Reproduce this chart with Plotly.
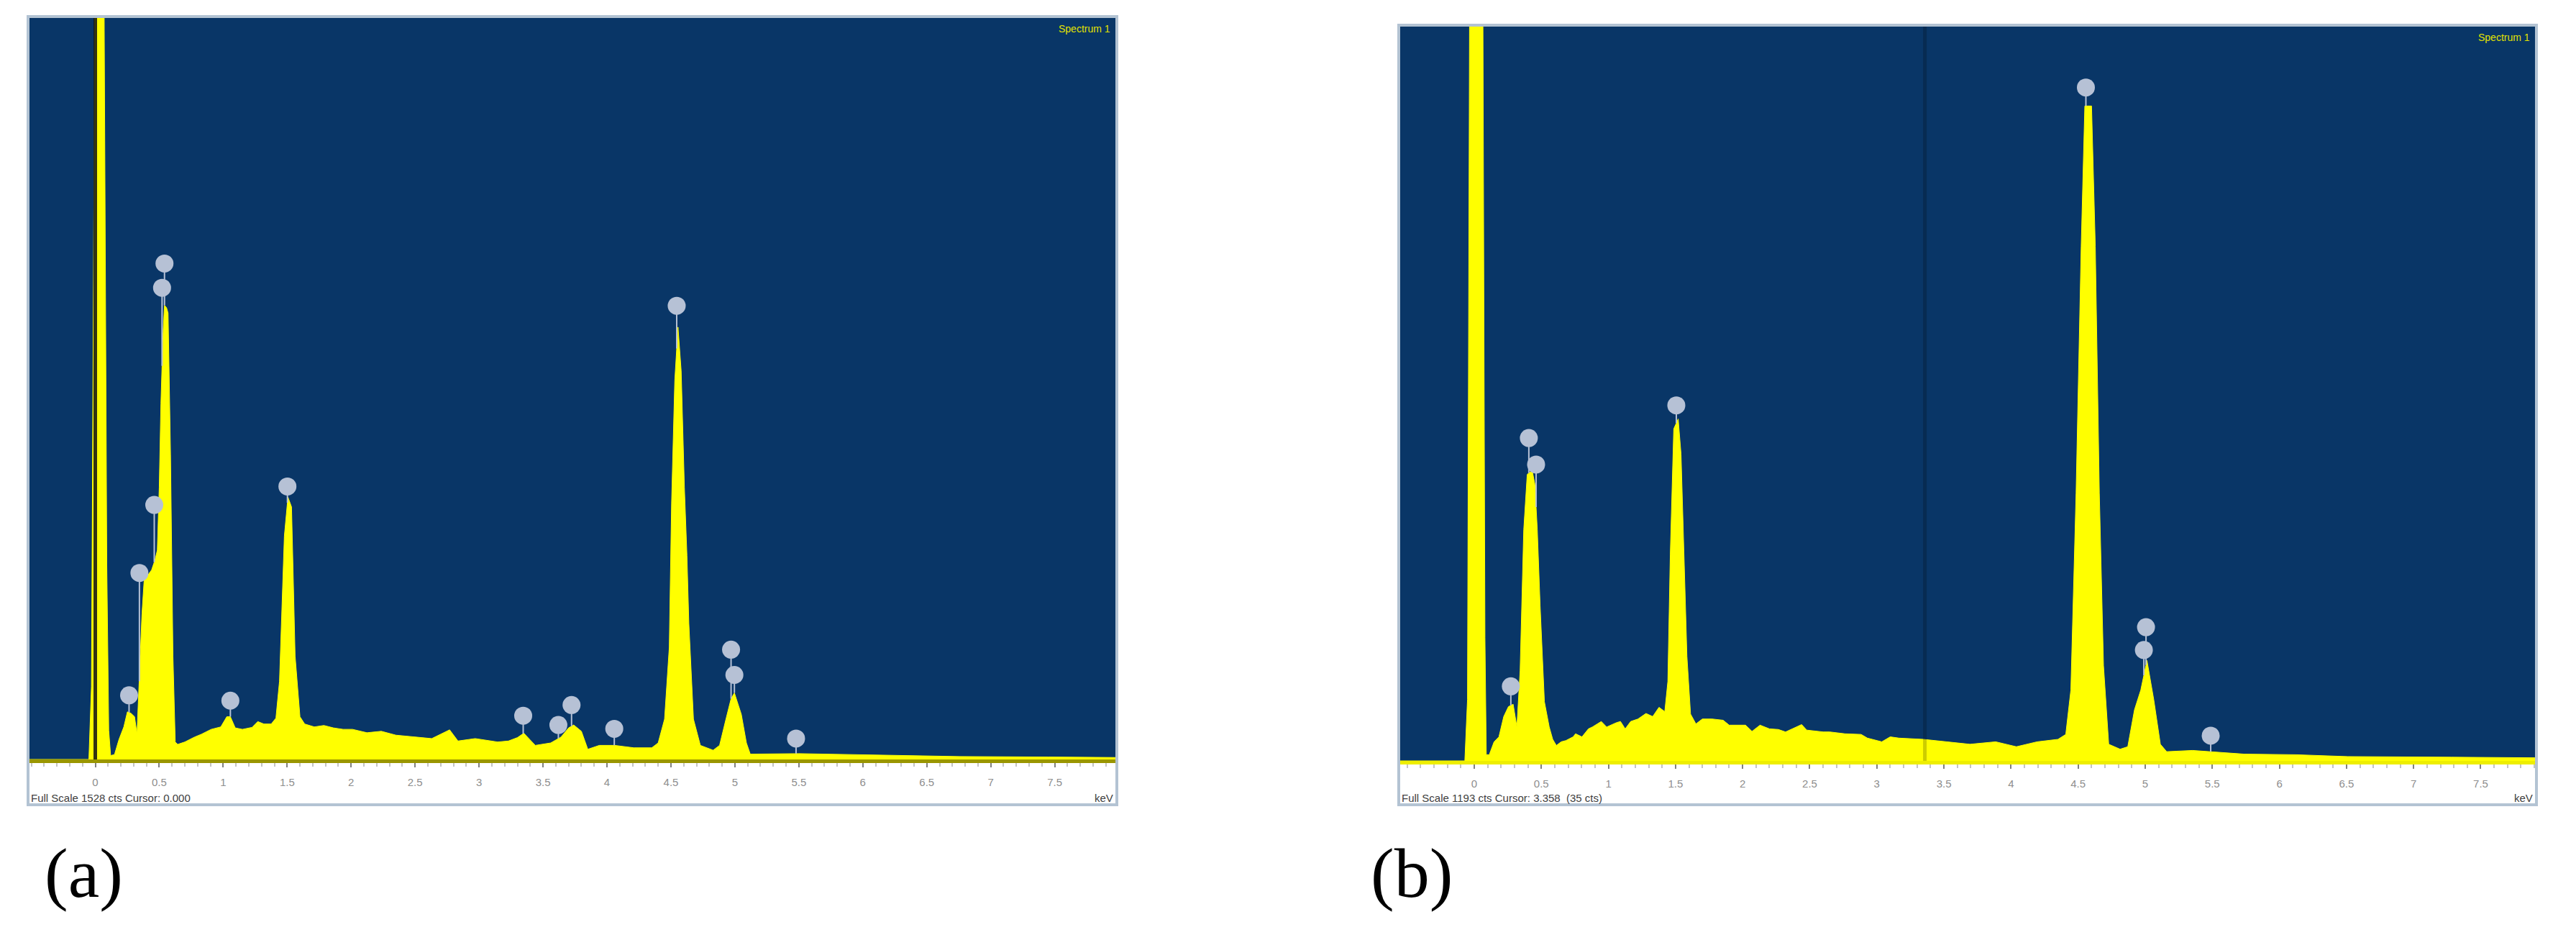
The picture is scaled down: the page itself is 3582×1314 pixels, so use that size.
import numpy as np
import plotly.graph_objects as go

W, H = 3582, 1314
PAGE_OFFSET = 8  # default body margin of the html page

# ---------- spectrum (a) ----------
kev_a = [-0.52, -0.05, -0.03, -0.01, 0.01, 0.03, 0.05, 0.07, 0.09, 0.105, 0.12, 0.15, 0.185, 0.223,
         0.251, 0.279, 0.307, 0.326, 0.345, 0.365, 0.382, 0.41, 0.44, 0.466, 0.485, 0.50, 0.513,
         0.53, 0.541, 0.557, 0.569, 0.588, 0.607, 0.625, 0.644, 0.70, 0.775, 0.83, 0.906, 0.981,
         1.028, 1.056, 1.094, 1.15, 1.225, 1.27, 1.318, 1.375, 1.412, 1.44, 1.465, 1.478, 1.506,
         1.534, 1.562, 1.6, 1.637, 1.712, 1.787, 1.861, 1.937, 2.011, 2.124, 2.236, 2.35, 2.45,
         2.55, 2.63, 2.77, 2.835, 2.97, 3.145, 3.23, 3.30, 3.35, 3.40, 3.44, 3.56, 3.64, 3.70,
         3.74, 3.80, 3.85, 3.94, 4.06, 4.21, 4.35, 4.40, 4.45, 4.487, 4.505, 4.53, 4.555, 4.58,
         4.605, 4.625, 4.64, 4.676, 4.73, 4.83, 4.88, 4.93, 4.97, 4.996, 5.05, 5.09, 5.12, 5.5,
         5.72, 6.07, 6.5, 6.76, 7.45, 7.98]
cts_a = [0, 0, 150, 1200, 3000, 3500, 3000, 1500, 400, 60, 8, 10, 41, 67,
         98, 95, 88, 52, 161, 300, 369, 379, 390, 410, 431, 560, 732,
         880, 935, 930, 919, 628, 213, 36, 31, 36, 46, 52, 62, 67,
         88, 88, 65, 62, 66, 78, 73, 73, 85, 161, 350, 460, 540,
         520, 213, 88, 73, 67, 70, 65, 62, 62, 55, 58, 50, 48,
         45, 43, 61, 38, 43, 36, 38, 45, 54, 40, 29, 34, 46, 65,
         71, 58, 21, 29, 29, 24, 24, 34, 83, 231, 527, 780, 890, 800,
         560, 420, 280, 83, 29, 19, 29, 83, 125, 137, 93, 34, 11, 12,
         11, 10, 8, 6, 5, 4]
peak_kev_a = [0.264, 0.345, 0.461, 0.522, 0.541, 1.056, 1.502, 3.345, 3.62, 3.723, 4.057,
              4.545, 4.97, 4.996, 5.478]
peak_cts_a = [132, 384, 524, 971, 1021, 121, 562, 90, 71, 112, 63, 934, 226, 174, 43]

# ---------- spectrum (b) ----------
kev_b = [-0.56, -0.07, -0.05, -0.03, -0.01, 0.02, 0.05, 0.065, 0.08, 0.09, 0.112, 0.148, 0.184,
         0.22, 0.255, 0.29, 0.318, 0.342, 0.369, 0.395, 0.416, 0.434, 0.452, 0.47, 0.491, 0.523,
         0.559, 0.585, 0.612, 0.648, 0.683, 0.737, 0.755, 0.803, 0.851, 0.88, 0.947, 0.987,
         1.059, 1.09, 1.125, 1.166, 1.22, 1.28, 1.33, 1.377, 1.42, 1.443, 1.461, 1.487, 1.52,
         1.541, 1.562, 1.585, 1.612, 1.652, 1.70, 1.773, 1.855, 1.90, 2.022, 2.07, 2.13, 2.2,
         2.266, 2.32, 2.44, 2.478, 2.6, 2.65, 2.763, 2.883, 2.93, 3.037, 3.1, 3.165, 3.346,
         3.54, 3.694, 3.886, 4.04, 4.195, 4.35, 4.408, 4.446, 4.485, 4.523, 4.55, 4.6, 4.628,
         4.658, 4.689, 4.728, 4.813, 4.87, 4.92, 4.967, 5.013, 5.064, 5.113, 5.16, 5.353,
         5.739, 6.125, 6.51, 7.28, 7.93]
cts_b = [0, 0, 100, 1500, 3000, 3500, 3000, 1200, 200, 10, 10, 31, 39,
         72, 88, 92, 55, 146, 375, 465, 469, 469, 449, 375, 252, 96,
         55, 35, 25, 31, 33, 39, 44, 39, 52, 55, 64, 55,
         62, 64, 52, 64, 68, 77, 72, 87, 80, 129, 334, 539, 555,
         498, 334, 170, 76, 60, 68, 68, 66, 58, 58, 48, 58, 52,
         51, 47, 59, 50, 47, 47, 44, 43, 37, 31, 39, 37, 35,
         31, 27, 31, 23, 31, 35, 43, 115, 435, 835, 1063, 1063, 835,
         435, 155, 27, 19, 23, 83, 115, 163, 99, 27, 15, 17,
         11, 10, 7, 6, 5]
peak_kev_b = [0.273, 0.407, 0.461, 1.506, 4.558, 4.99, 5.006, 5.488]
peak_cts_b = [121, 524, 481, 577, 1093, 180, 217, 41]

tick_vals = [0, 0.5, 1, 1.5, 2, 2.5, 3, 3.5, 4, 4.5, 5, 5.5, 6, 6.5, 7, 7.5]

BLUE = '#093667'
YELLOW = '#ffff00'
MARKER = '#b6c1d5'
FRAME = '#b3c3d3'


def px(x):
    return (x - PAGE_OFFSET) / W


def py(y):
    return 1 - (y - PAGE_OFFSET) / H


def add_panel(fig, n, kev, cts, pk_kev, pk_cts, box, xrange, full_scale,
              cursor, cursor_color, base_color, footer, label, label_x):
    left, top, right, bottom = box
    xa = 'x' if n == 1 else 'x%d' % n
    ya = 'y' if n == 1 else 'y%d' % n

    fig.add_trace(go.Scatter(x=kev, y=cts, mode='lines', line=dict(color=YELLOW, width=1),
                             fill='tozeroy', fillcolor=YELLOW, xaxis=xa, yaxis=ya,
                             hoverinfo='skip'))
    # cursor line
    fig.add_trace(go.Scatter(x=[cursor, cursor], y=[0, full_scale], mode='lines',
                             line=dict(color=cursor_color, width=5), xaxis=xa, yaxis=ya,
                             hoverinfo='skip'))
    stems = np.maximum(np.array(pk_cts) - np.interp(pk_kev, kev, cts), 0)
    fig.add_trace(go.Scatter(x=pk_kev, y=pk_cts, mode='markers',
                             marker=dict(color=MARKER, size=25, line=dict(width=0)),
                             error_y=dict(type='data', symmetric=False, array=[0] * len(pk_kev),
                                          arrayminus=stems, color=MARKER, thickness=2, width=0),
                             xaxis=xa, yaxis=ya))

    xkey = 'xaxis' if n == 1 else 'xaxis%d' % n
    ykey = 'yaxis' if n == 1 else 'yaxis%d' % n
    fig.update_layout(**{
        xkey: dict(domain=[px(left), px(right)], range=xrange, anchor=ya,
                   tickmode='array', tickvals=tick_vals, ticks='outside', ticklen=6,
                   tickcolor='#808080', tickwidth=2, showgrid=False, zeroline=False,
                   showline=True, linecolor=base_color, linewidth=5,
                   ticklabelstandoff=8,
                   tickfont=dict(family='Liberation Sans', size=15, color='#8e8e8e'),
                   minor=dict(tickmode='linear', tick0=0, dtick=0.1, ticks='outside',
                              ticklen=5, tickcolor='#c4c4c4', tickwidth=2, showgrid=False)),
        ykey: dict(domain=[py(bottom), py(top)], range=[0, full_scale], anchor=xa,
                   visible=False, showgrid=False, zeroline=False),
    })

    # frame around the panel
    fig.add_shape(type='rect', xref='paper', yref='paper',
                  x0=px(left - 1), x1=px(right + 1), y0=py(1119), y1=py(top - 1),
                  line=dict(color=FRAME, width=4), layer='above')

    fig.add_annotation(text='Spectrum 1', xref='paper', yref='paper', x=px(right - 6),
                       y=py(top + 16), xanchor='right', yanchor='middle', showarrow=False,
                       font=dict(family='Liberation Sans', size=14, color='#e2e200'))
    fig.add_annotation(text=footer, xref='paper', yref='paper', x=px(left + 1), y=py(1109),
                       xanchor='left', yanchor='middle', showarrow=False,
                       font=dict(family='Liberation Sans', size=15, color='#404040'))
    fig.add_annotation(text='keV', xref='paper', yref='paper', x=px(right - 2), y=py(1109),
                       xanchor='right', yanchor='middle', showarrow=False,
                       font=dict(family='Liberation Sans', size=15, color='#404040'))
    fig.add_annotation(text=label, xref='paper', yref='paper', x=px(label_x), y=py(1214),
                       xanchor='left', yanchor='middle', showarrow=False,
                       font=dict(family='Liberation Serif', size=98, color='#000000'))


fig = go.Figure()
add_panel(fig, 1, kev_a, cts_a, peak_kev_a, peak_cts_a, (40, 24, 1552, 1056), [-0.52, 7.98],
          1528, 0.0, 'rgba(15,15,20,0.85)', '#9a9600',
          'Full Scale 1528 cts Cursor: 0.000', '(a)', 60)
add_panel(fig, 2, kev_b, cts_b, peak_kev_b, peak_cts_b, (1946, 36, 3526, 1058), [-0.557, 7.91],
          1193, 3.358, 'rgba(0,0,0,0.2)', '#eeee00',
          'Full Scale 1193 cts Cursor: 3.358  (35 cts)', '(b)', 1904)

fig.update_layout(width=W, height=H, margin=dict(l=0, r=0, t=0, b=0),
                  paper_bgcolor='white', plot_bgcolor=BLUE, showlegend=False)

fig.write_html("out.html")
